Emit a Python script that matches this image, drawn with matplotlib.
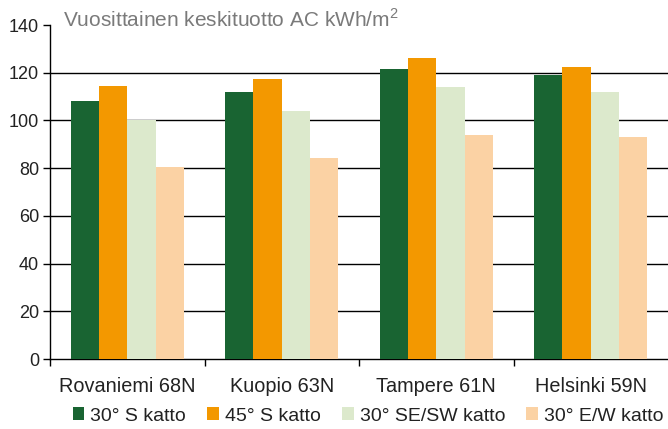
import matplotlib
matplotlib.use("Agg")
import matplotlib.pyplot as plt
from matplotlib.patches import Patch
import numpy as np

plt.rcParams['font.family'] = ['Liberation Sans', 'DejaVu Sans']
plt.rcParams['mathtext.fontset'] = 'custom'
plt.rcParams['mathtext.rm'] = 'Liberation Sans'

cities = ['Rovaniemi 68N', 'Kuopio 63N', 'Tampere 61N', 'Helsinki 59N']
series = ['30° S katto', '45° S katto', '30° SE/SW katto', '30° E/W katto']
s30 = [108.1, 111.9, 121.5, 119.0]
s45 = [114.4, 117.4, 126.2, 122.4]
sesw = [100.2, 103.9, 114.0, 111.9]
ew = [80.5, 84.2, 93.9, 93.0]
colors = ['#196432', '#F39800', '#DCE9CC', '#FBD2A4']

fig = plt.figure(figsize=(6.68, 4.29), dpi=100)
ax = fig.add_axes([50/668, 1-359/429, 1-50/668, 334/429])

x = np.arange(len(cities))
w = 0.183
for i, vals in enumerate([s30, s45, sesw, ew]):
    ax.bar(x + (i-1.5)*w, vals, w, color=colors[i], zorder=3, linewidth=0)

ax.set_xlim(-0.5, 3.5)
ax.set_ylim(0, 140)
ax.set_yticks(range(0, 141, 20))
ax.set_xticks(x)
ax.set_xticklabels(cities, fontsize=14.3, color='#222222')
ax.set_xticks([-0.5, 0.5, 1.5, 2.5], minor=True)
ax.tick_params(axis='x', which='major', length=0, pad=13)
ax.tick_params(axis='x', which='minor', length=5, width=1, direction='out')
ax.tick_params(axis='y', length=5, width=1, labelsize=13, pad=3, labelcolor='#222222')
for sp in ['top', 'right']:
    ax.spines[sp].set_visible(False)
ax.spines['left'].set_linewidth(1)
ax.spines['bottom'].set_linewidth(1)
ax.yaxis.grid(True, color='black', linewidth=1, zorder=1)
ax.set_axisbelow(True)
ax.get_ygridlines()[-1].set_visible(False)
ax.get_ygridlines()[0].set_visible(False)

fig.text(63/668, 1-19/429, 'Vuosittainen keskituotto AC kWh/m$^2$', fontsize=15,
         color='#7a7a7a', va='center', ha='left')

handles = [Patch(facecolor=c, edgecolor='none') for c in colors]
fig.legend(handles, series, loc='center', bbox_to_anchor=(368/668, 1-416/429),
           ncol=4, frameon=False, fontsize=14, handlelength=0.6, handleheight=0.65,
           handletextpad=0.3, columnspacing=1.1, borderaxespad=0,
           labelcolor='#222222')

fig.savefig('out.png', dpi=100)
